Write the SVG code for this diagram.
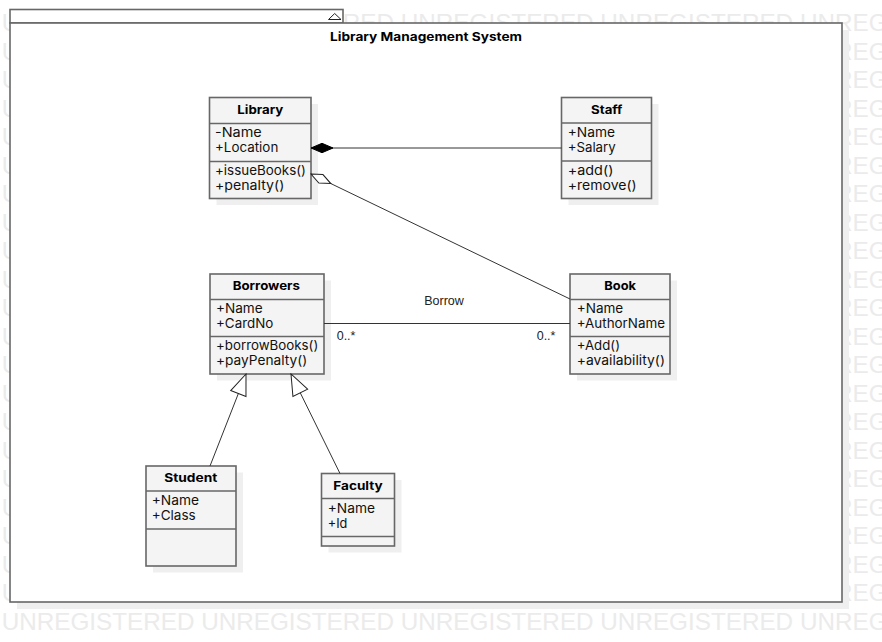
<svg xmlns="http://www.w3.org/2000/svg" width="882" height="642" viewBox="0 0 882 642">
<style>
.wm{font-family:"Liberation Sans",Arial,sans-serif;font-size:24.4px;fill:#ebebeb}
.box{fill:#f4f4f4;stroke:#676767;stroke-width:1.6}
.sh{fill:#efefef}
.dv{stroke:#676767;stroke-width:1.6}
.t{font-family:Inter,"Open Sans",sans-serif;font-size:13px;fill:#111}
.b{font-family:Inter,"Open Sans",sans-serif;font-size:12px;font-weight:700;fill:#000;text-anchor:middle}
.lbl{font-family:"Liberation Sans",Arial,sans-serif;font-size:12.5px;fill:#222}
.conn{stroke:#333;stroke-width:1;fill:none}
.frame{fill:#fff;stroke:#676767;stroke-width:1.6}
</style>
<defs>
<marker id="fdia" markerUnits="userSpaceOnUse" viewBox="-1 -6 24 12" refX="0" refY="0" markerWidth="24" markerHeight="12" orient="auto">
<path d="M0,0 L11,-4.7 L22,0 L11,4.7 Z" fill="#000" stroke="#000" stroke-width="1"/>
</marker>
<marker id="hdia" markerUnits="userSpaceOnUse" viewBox="-1 -6 24 12" refX="0" refY="0" markerWidth="24" markerHeight="12" orient="auto">
<path d="M0,0 L11,-4.7 L22,0 L11,4.7 Z" fill="#fff" stroke="#222" stroke-width="1"/>
</marker>
<marker id="tri" markerUnits="userSpaceOnUse" viewBox="-23 -10 24 20" refX="0" refY="0" markerWidth="24" markerHeight="20" orient="auto">
<path d="M0,0 L-21,-8.2 L-21,8.2 Z" fill="#fff" stroke="#222" stroke-width="1"/>
</marker>
</defs>
<rect width="882" height="642" fill="#fff"/>
<g id="watermark">
<text class="wm" x="1.7" y="31" textLength="991" lengthAdjust="spacingAndGlyphs">UNREGISTERED UNREGISTERED UNREGISTERED UNREGISTERED UNREGISTERED</text>
<text class="wm" x="1.7" y="59.5" textLength="991" lengthAdjust="spacingAndGlyphs">UNREGISTERED UNREGISTERED UNREGISTERED UNREGISTERED UNREGISTERED</text>
<text class="wm" x="1.7" y="88" textLength="991" lengthAdjust="spacingAndGlyphs">UNREGISTERED UNREGISTERED UNREGISTERED UNREGISTERED UNREGISTERED</text>
<text class="wm" x="1.7" y="116.5" textLength="991" lengthAdjust="spacingAndGlyphs">UNREGISTERED UNREGISTERED UNREGISTERED UNREGISTERED UNREGISTERED</text>
<text class="wm" x="1.7" y="145" textLength="991" lengthAdjust="spacingAndGlyphs">UNREGISTERED UNREGISTERED UNREGISTERED UNREGISTERED UNREGISTERED</text>
<text class="wm" x="1.7" y="173.5" textLength="991" lengthAdjust="spacingAndGlyphs">UNREGISTERED UNREGISTERED UNREGISTERED UNREGISTERED UNREGISTERED</text>
<text class="wm" x="1.7" y="202" textLength="991" lengthAdjust="spacingAndGlyphs">UNREGISTERED UNREGISTERED UNREGISTERED UNREGISTERED UNREGISTERED</text>
<text class="wm" x="1.7" y="230.5" textLength="991" lengthAdjust="spacingAndGlyphs">UNREGISTERED UNREGISTERED UNREGISTERED UNREGISTERED UNREGISTERED</text>
<text class="wm" x="1.7" y="259" textLength="991" lengthAdjust="spacingAndGlyphs">UNREGISTERED UNREGISTERED UNREGISTERED UNREGISTERED UNREGISTERED</text>
<text class="wm" x="1.7" y="287.5" textLength="991" lengthAdjust="spacingAndGlyphs">UNREGISTERED UNREGISTERED UNREGISTERED UNREGISTERED UNREGISTERED</text>
<text class="wm" x="1.7" y="316" textLength="991" lengthAdjust="spacingAndGlyphs">UNREGISTERED UNREGISTERED UNREGISTERED UNREGISTERED UNREGISTERED</text>
<text class="wm" x="1.7" y="344.5" textLength="991" lengthAdjust="spacingAndGlyphs">UNREGISTERED UNREGISTERED UNREGISTERED UNREGISTERED UNREGISTERED</text>
<text class="wm" x="1.7" y="373" textLength="991" lengthAdjust="spacingAndGlyphs">UNREGISTERED UNREGISTERED UNREGISTERED UNREGISTERED UNREGISTERED</text>
<text class="wm" x="1.7" y="401.5" textLength="991" lengthAdjust="spacingAndGlyphs">UNREGISTERED UNREGISTERED UNREGISTERED UNREGISTERED UNREGISTERED</text>
<text class="wm" x="1.7" y="430" textLength="991" lengthAdjust="spacingAndGlyphs">UNREGISTERED UNREGISTERED UNREGISTERED UNREGISTERED UNREGISTERED</text>
<text class="wm" x="1.7" y="458.5" textLength="991" lengthAdjust="spacingAndGlyphs">UNREGISTERED UNREGISTERED UNREGISTERED UNREGISTERED UNREGISTERED</text>
<text class="wm" x="1.7" y="487" textLength="991" lengthAdjust="spacingAndGlyphs">UNREGISTERED UNREGISTERED UNREGISTERED UNREGISTERED UNREGISTERED</text>
<text class="wm" x="1.7" y="515.5" textLength="991" lengthAdjust="spacingAndGlyphs">UNREGISTERED UNREGISTERED UNREGISTERED UNREGISTERED UNREGISTERED</text>
<text class="wm" x="1.7" y="544" textLength="991" lengthAdjust="spacingAndGlyphs">UNREGISTERED UNREGISTERED UNREGISTERED UNREGISTERED UNREGISTERED</text>
<text class="wm" x="1.7" y="572.5" textLength="991" lengthAdjust="spacingAndGlyphs">UNREGISTERED UNREGISTERED UNREGISTERED UNREGISTERED UNREGISTERED</text>
<text class="wm" x="1.7" y="601" textLength="991" lengthAdjust="spacingAndGlyphs">UNREGISTERED UNREGISTERED UNREGISTERED UNREGISTERED UNREGISTERED</text>
<text class="wm" x="1.7" y="629.5" textLength="991" lengthAdjust="spacingAndGlyphs">UNREGISTERED UNREGISTERED UNREGISTERED UNREGISTERED UNREGISTERED</text>
</g>
<g id="package-frame">
<rect class="sh" x="17" y="30" width="832" height="579"/>
<rect class="frame" x="10" y="9.5" width="333" height="13.5"/>
<path d="M328.5,19.5 L334.7,13.5 L341,19.5 Z" fill="#fff" stroke="#222" stroke-width="1"/>
<rect class="frame" x="10" y="23" width="832" height="579"/>
<text class="b" x="426" y="40.5" textLength="192" lengthAdjust="spacingAndGlyphs">Library Management System</text>
</g>
<g id="node-library">
<rect class="sh" x="216.5" y="104" width="101.5" height="101"/>
<rect class="box" x="209.5" y="97.5" width="101.5" height="101"/>
<line class="dv" x1="209.5" y1="123.5" x2="311" y2="123.5"/>
<line class="dv" x1="209.5" y1="161.5" x2="311" y2="161.5"/>
<text class="b" x="260.3" y="114" textLength="46" lengthAdjust="spacingAndGlyphs">Library</text>
<text class="t" x="215" y="137" textLength="46.7" lengthAdjust="spacingAndGlyphs">-Name</text>
<text class="t" x="215" y="152" textLength="63.3" lengthAdjust="spacingAndGlyphs">+Location</text>
<text class="t" x="215" y="175" textLength="91" lengthAdjust="spacingAndGlyphs">+issueBooks()</text>
<text class="t" x="215" y="189.5" textLength="69.3" lengthAdjust="spacingAndGlyphs">+penalty()</text>
</g>
<g id="node-staff">
<rect class="sh" x="568.5" y="104" width="90" height="101"/>
<rect class="box" x="561.5" y="97.5" width="90" height="101"/>
<line class="dv" x1="561.5" y1="123" x2="651.5" y2="123"/>
<line class="dv" x1="561.5" y1="161" x2="651.5" y2="161"/>
<text class="b" x="606.7" y="114" textLength="31.3" lengthAdjust="spacingAndGlyphs">Staff</text>
<text class="t" x="567.7" y="137" textLength="47.3" lengthAdjust="spacingAndGlyphs">+Name</text>
<text class="t" x="567.7" y="152" textLength="48" lengthAdjust="spacingAndGlyphs">+Salary</text>
<text class="t" x="567.7" y="175" textLength="45.7" lengthAdjust="spacingAndGlyphs">+add()</text>
<text class="t" x="567.7" y="189.5" textLength="69" lengthAdjust="spacingAndGlyphs">+remove()</text>
</g>
<g id="node-borrowers">
<rect class="sh" x="217" y="280.5" width="114" height="100"/>
<rect class="box" x="210" y="274" width="114" height="100"/>
<line class="dv" x1="210" y1="299.5" x2="324" y2="299.5"/>
<line class="dv" x1="210" y1="336.5" x2="324" y2="336.5"/>
<text class="b" x="266.3" y="289.5" textLength="67.3" lengthAdjust="spacingAndGlyphs">Borrowers</text>
<text class="t" x="216" y="312.7" textLength="46.7" lengthAdjust="spacingAndGlyphs">+Name</text>
<text class="t" x="216" y="327.5" textLength="57.3" lengthAdjust="spacingAndGlyphs">+CardNo</text>
<text class="t" x="216" y="350" textLength="102.3" lengthAdjust="spacingAndGlyphs">+borrowBooks()</text>
<text class="t" x="216" y="365" textLength="91.3" lengthAdjust="spacingAndGlyphs">+payPenalty()</text>
</g>
<g id="node-book">
<rect class="sh" x="577" y="280.5" width="100" height="100"/>
<rect class="box" x="570" y="274" width="100" height="100"/>
<line class="dv" x1="570" y1="299.5" x2="670" y2="299.5"/>
<line class="dv" x1="570" y1="336.5" x2="670" y2="336.5"/>
<text class="b" x="620.2" y="289.5" textLength="31.7" lengthAdjust="spacingAndGlyphs">Book</text>
<text class="t" x="576.7" y="312.7" textLength="46.6" lengthAdjust="spacingAndGlyphs">+Name</text>
<text class="t" x="576.7" y="327.5" textLength="88.3" lengthAdjust="spacingAndGlyphs">+AuthorName</text>
<text class="t" x="576.7" y="350" textLength="43.3" lengthAdjust="spacingAndGlyphs">+Add()</text>
<text class="t" x="576.7" y="365" textLength="88.3" lengthAdjust="spacingAndGlyphs">+availability()</text>
</g>
<g id="node-student">
<rect class="sh" x="153" y="472.5" width="90" height="100"/>
<rect class="box" x="146" y="466" width="90" height="100"/>
<line class="dv" x1="146" y1="491" x2="236" y2="491"/>
<line class="dv" x1="146" y1="529" x2="236" y2="529"/>
<text class="b" x="190.8" y="481.5" textLength="53" lengthAdjust="spacingAndGlyphs">Student</text>
<text class="t" x="151.7" y="504.5" textLength="47.3" lengthAdjust="spacingAndGlyphs">+Name</text>
<text class="t" x="151.7" y="519.5" textLength="44" lengthAdjust="spacingAndGlyphs">+Class</text>
</g>
<g id="node-faculty">
<rect class="sh" x="328.5" y="480" width="73" height="72.5"/>
<rect class="box" x="321.5" y="473.5" width="73" height="72.5"/>
<line class="dv" x1="321.5" y1="498.5" x2="394.5" y2="498.5"/>
<line class="dv" x1="321.5" y1="536.5" x2="394.5" y2="536.5"/>
<text class="b" x="358" y="489.5" textLength="49.3" lengthAdjust="spacingAndGlyphs">Faculty</text>
<text class="t" x="327.7" y="512.5" textLength="47.3" lengthAdjust="spacingAndGlyphs">+Name</text>
<text class="t" x="327.7" y="527.5" textLength="19.7" lengthAdjust="spacingAndGlyphs">+Id</text>
</g>
<g id="connectors">
<path class="conn" d="M311,148 L561.5,148" marker-start="url(#fdia)"/>
<path class="conn" d="M311,174 L570,299" marker-start="url(#hdia)"/>
<path class="conn" d="M324,323.5 L570,323.5"/>
<path class="conn" d="M210,466 L246,374" marker-end="url(#tri)"/>
<path class="conn" d="M340,473.5 L291,374" marker-end="url(#tri)"/>
<text class="lbl" x="444" y="305" text-anchor="middle">Borrow</text>
<text class="lbl" x="336.7" y="340">0..*</text>
<text class="lbl" x="536.7" y="340">0..*</text>
</g>
</svg>
